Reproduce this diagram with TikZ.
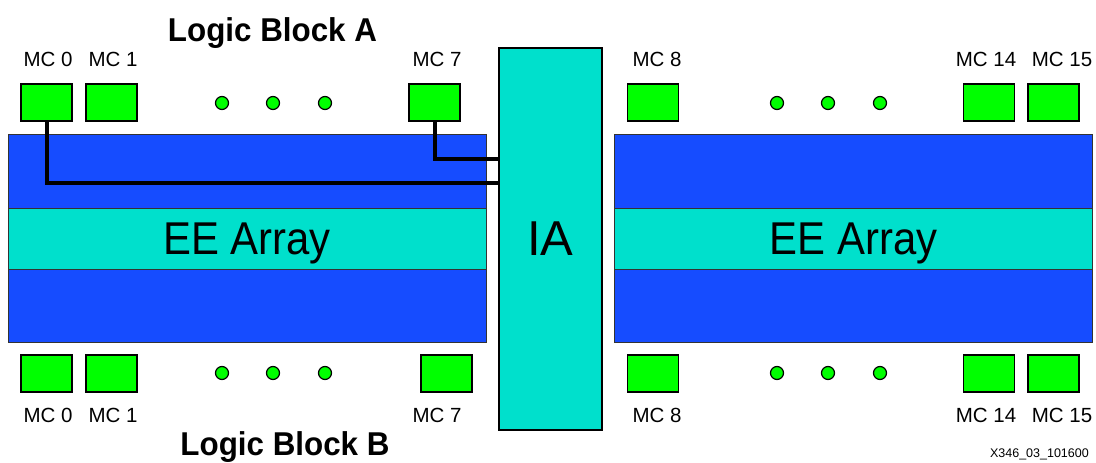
\documentclass[tikz,border=0pt]{standalone}
\usepackage{fontspec}
\setmainfont{Liberation Sans}
\usepackage{graphicx}
\definecolor{eeblue}{RGB}{22,76,255}
\definecolor{iateal}{RGB}{0,224,204}
\definecolor{mcgreen}{RGB}{0,255,0}

\begin{document}
\begin{tikzpicture}[x=1pt,y=-1pt,
    mc/.style={rectangle,draw=black,fill=mcgreen,line width=1.2pt,minimum width=51pt,minimum height=37pt,inner sep=0pt},
    mcdot/.style={circle,draw=black,fill=mcgreen,line width=1.2pt,minimum size=13pt,inner sep=0pt},
    band/.style={rectangle,draw=black!80,fill=eeblue,line width=1pt,minimum width=478pt,inner sep=0pt},
    midband/.style={band,fill=iateal,text depth=0pt,font=\fontsize{46}{50}\selectfont},
    lbl/.style={inner sep=0pt,font=\fontsize{20.5}{24}\selectfont},
    title/.style={inner sep=0pt,anchor=base,font=\fontsize{33}{36}\selectfont\bfseries},
    wire/.style={line width=4pt,line join=miter}]
                 \useasboundingbox (0,0) rectangle (1096,463);
                 \foreach \s/\cx in {l/247,r/853.5}{
                   \node[band,minimum height=74pt] (\s-top) at (\cx,171) {};
                   \node[midband,minimum height=61pt] (\s-mid) at (\cx,238.5) {\scalebox{0.91}[1]{EE Array}};
                   \node[band,minimum height=73pt] (\s-bot) at (\cx,305.5) {};
                 }
                 \node[rectangle,draw=black,fill=iateal,line width=1.5pt,minimum width=103pt,minimum height=382pt,inner sep=0pt,text depth=0pt,font=\fontsize{49}{52}\selectfont] (ia) at (550.5,239) {IA};
                 % logic block A
                 \node[mc] (ta0) at (46.5,102.5) {};
                 \node[mc] (ta1) at (111.5,102.5) {};
                 \node[mc] (ta7) at (434.5,102.5) {};
                 \node[mc] (ta8) at (653,102.5) {};
                 \node[mc] (ta14) at (989,102.5) {};
                 \node[mc] (ta15) at (1053.5,102.5) {};
                 % logic block B
                 \node[mc] (tb0) at (46.5,373.5) {};
                 \node[mc] (tb1) at (111.5,373.5) {};
                 \node[mc] (tb7) at (446.5,373.5) {};
                 \node[mc] (tb8) at (653,373.5) {};
                 \node[mc] (tb14) at (989,373.5) {};
                 \node[mc] (tb15) at (1053.5,373.5) {};
                 \foreach \x in {222,273,325,777,828,880}{
                   \node[mcdot] at (\x,103) {};
                   \node[mcdot] at (\x,373) {};
                 }
                 \foreach \n/\x in {0/48,1/113,7/437,8/657,14/986,15/1062}{
                   \node[lbl] (la\n) at (\x,59.5) {MC \n};
                   \node[lbl] (lb\n) at (\x,415) {MC \n};
                 }
                 \node[title] (lba) at (272.5,41) {\scalebox{0.95}[1]{Logic Block A}};
                 \node[title] (lbb) at (285,455) {\scalebox{0.95}[1]{Logic Block B}};
                 \coordinate (w0) at (0,183);
                 \coordinate (w7) at (0,159);
                 \draw[wire] (ta0.south) |- (ia.west |- w0);
                 \draw[wire] (ta7.south) |- (ia.west |- w7);
                 \node[inner sep=0pt,anchor=base east,font=\fontsize{12.5}{14}\selectfont] (fig) at (1089,457) {X346\_03\_101600};
               \end{tikzpicture}
\end{document}
